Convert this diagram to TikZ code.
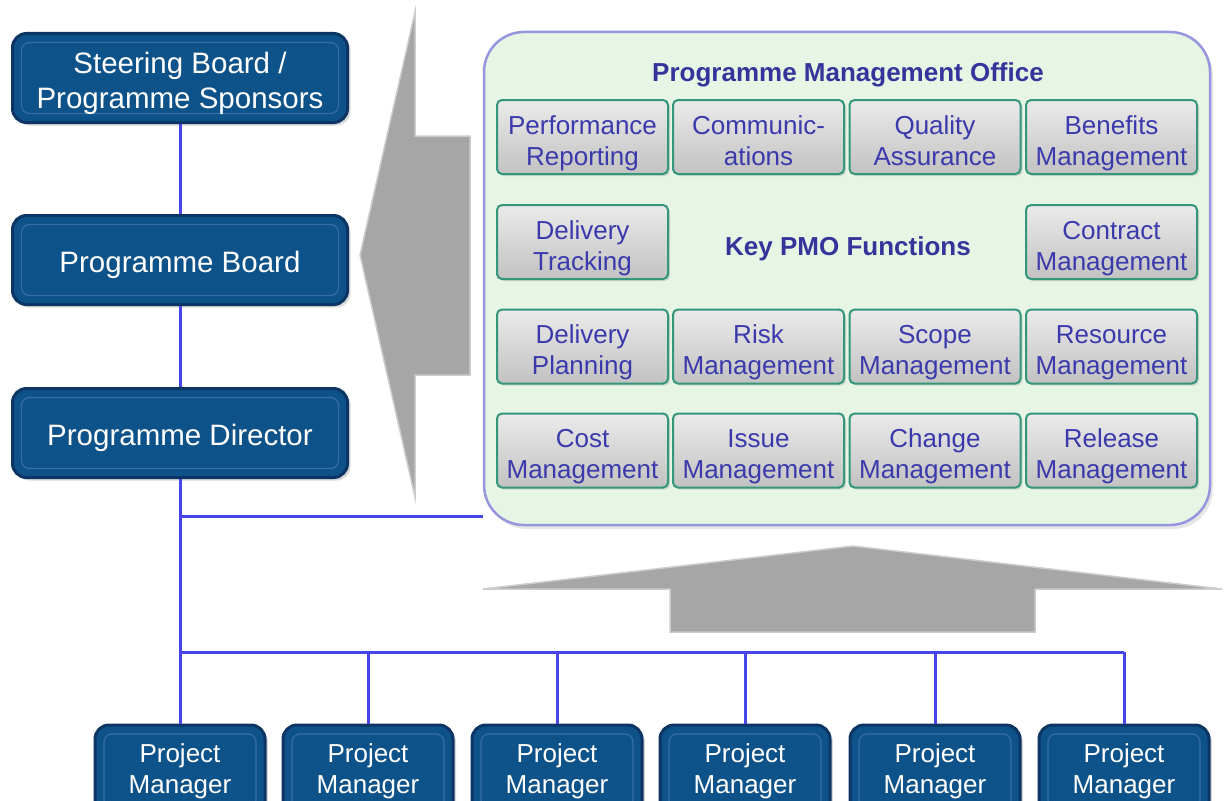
\documentclass[tikz,border=0pt]{standalone}
\usepackage{fontspec}
\setmainfont{Liberation Sans}
\usetikzlibrary{shadows}

\definecolor{boxblue}{RGB}{14,82,138}
\definecolor{boxedge}{RGB}{12,52,100}
\definecolor{boxinner}{RGB}{52,110,165}
\definecolor{pmofill}{RGB}{230,245,228}
\definecolor{pmoedge}{RGB}{150,150,222}
\definecolor{fnedge}{RGB}{52,150,122}
\definecolor{fntext}{RGB}{58,58,172}
\definecolor{linkblue}{RGB}{70,70,232}
\definecolor{arrowgrey}{RGB}{166,166,166}

\begin{document}
\begin{tikzpicture}[x=1pt, y=-1pt,
  darkbox/.style={rectangle, rounded corners=14pt, fill=boxblue, draw=boxedge,
    line width=3pt, text=white, inner sep=0pt, align=center,
    drop shadow={shadow xshift=3pt, shadow yshift=-3pt, opacity=0.3},
    path picture={\draw[boxinner, line width=1.2pt, rounded corners=8pt]
      ([shift={(9pt,-9pt)}]path picture bounding box.north west) rectangle
      ([shift={(-9pt,9pt)}]path picture bounding box.south east);}},
  leadbox/.style={darkbox, minimum width=335pt, minimum height=89pt,
    text height=32pt, font=\fontsize{29.5}{35}\selectfont},
  pmbox/.style={darkbox, minimum width=170pt, minimum height=92pt,
    font=\fontsize{26}{31}\selectfont},
  fnbox/.style={rectangle, rounded corners=5pt, draw=fnedge, line width=2pt,
    top color=black!8, bottom color=black!24, text=fntext, inner sep=0pt,
    minimum width=171pt, minimum height=74pt, align=center,
    text height=62pt, text depth=6pt, font=\fontsize{26}{31}\selectfont,
    drop shadow={shadow xshift=2pt, shadow yshift=-2pt, opacity=0.25}},
  link/.style={draw=linkblue, line width=3pt},
  bigarrow/.style={fill=arrowgrey, draw=black!20, line width=1.5pt, line join=miter}]

\useasboundingbox (0,0) rectangle (1225,800);
\clip (0,0) rectangle (1225,800);

% grey arrows
\fill[bigarrow] (360,255) -- (415,12) -- (415,136) -- (470,136) -- (470,375)
  -- (415,375) -- (415,497) -- cycle;
\fill[bigarrow] (853,546) -- (1222,589) -- (1035,589) -- (1035,632) -- (670,632)
  -- (670,589) -- (483,589) -- cycle;

% programme side
\node[leadbox, text height=67pt] (steer) at (180,78) {Steering Board /\\Programme Sponsors};
\node[leadbox] (board) at (180,260) {Programme Board};
\node[leadbox] (director) at (180,433) {Programme Director};

% PMO
\node[rectangle, rounded corners=40pt, fill=pmofill, draw=pmoedge, line width=2.5pt,
  minimum width=726pt, minimum height=493pt,
  drop shadow={shadow xshift=3pt, shadow yshift=-4pt, opacity=0.2}]
  (pmo) at (847,278.5) {};
\node[text=fntext!90!black, font=\bfseries\fontsize{26}{31}\selectfont] (pmotitle)
  at (848,75) {Programme Management Office};
\node[text=fntext!90!black, font=\bfseries\fontsize{26}{31}\selectfont] (keyfn)
  at (848,249) {Key PMO Functions};

\node[fnbox] (perf) at (582.5,137) {Performance\\Reporting};
\node[fnbox] (comm) at (758.5,137) {Communic-\\ations};
\node[fnbox] (qual) at (935,137) {Quality\\Assurance};
\node[fnbox] (bene) at (1111.5,137) {Benefits\\Management};

\node[fnbox] (dtrack) at (582.5,242) {Delivery\\Tracking};
\node[fnbox] (contract) at (1111.5,242) {Contract\\Management};

\node[fnbox] (dplan) at (582.5,346.5) {Delivery\\Planning};
\node[fnbox] (risk) at (758.5,346.5) {Risk\\Management};
\node[fnbox] (scope) at (935,346.5) {Scope\\Management};
\node[fnbox] (resource) at (1111.5,346.5) {Resource\\Management};

\node[fnbox] (cost) at (582.5,450.5) {Cost\\Management};
\node[fnbox] (issue) at (758.5,450.5) {Issue\\Management};
\node[fnbox] (change) at (935,450.5) {Change\\Management};
\node[fnbox] (release) at (1111.5,450.5) {Release\\Management};

% project managers
\node[pmbox] (pm1) at (180,771) {Project\\Manager};
\node[pmbox] (pm2) at (368,771) {Project\\Manager};
\node[pmbox] (pm3) at (557,771) {Project\\Manager};
\node[pmbox] (pm4) at (745,771) {Project\\Manager};
\node[pmbox] (pm5) at (935,771) {Project\\Manager};
\node[pmbox] (pm6) at (1124,771) {Project\\Manager};

% connectors
\coordinate (pmolink) at (181,516);
\coordinate (bus) at (181,652);
\draw[link] (steer) -- (board);
\draw[link] (board) -- (director);
\draw[link] (director) -- (pm1);
\draw[link] (pmolink) -- (pmolink -| pmo.west);
\draw[link] (bus) -- (bus -| pm6);
\foreach \i in {2,...,6}
  \draw[link] (bus -| pm\i) -- (pm\i.north);
\end{tikzpicture}
\end{document}
